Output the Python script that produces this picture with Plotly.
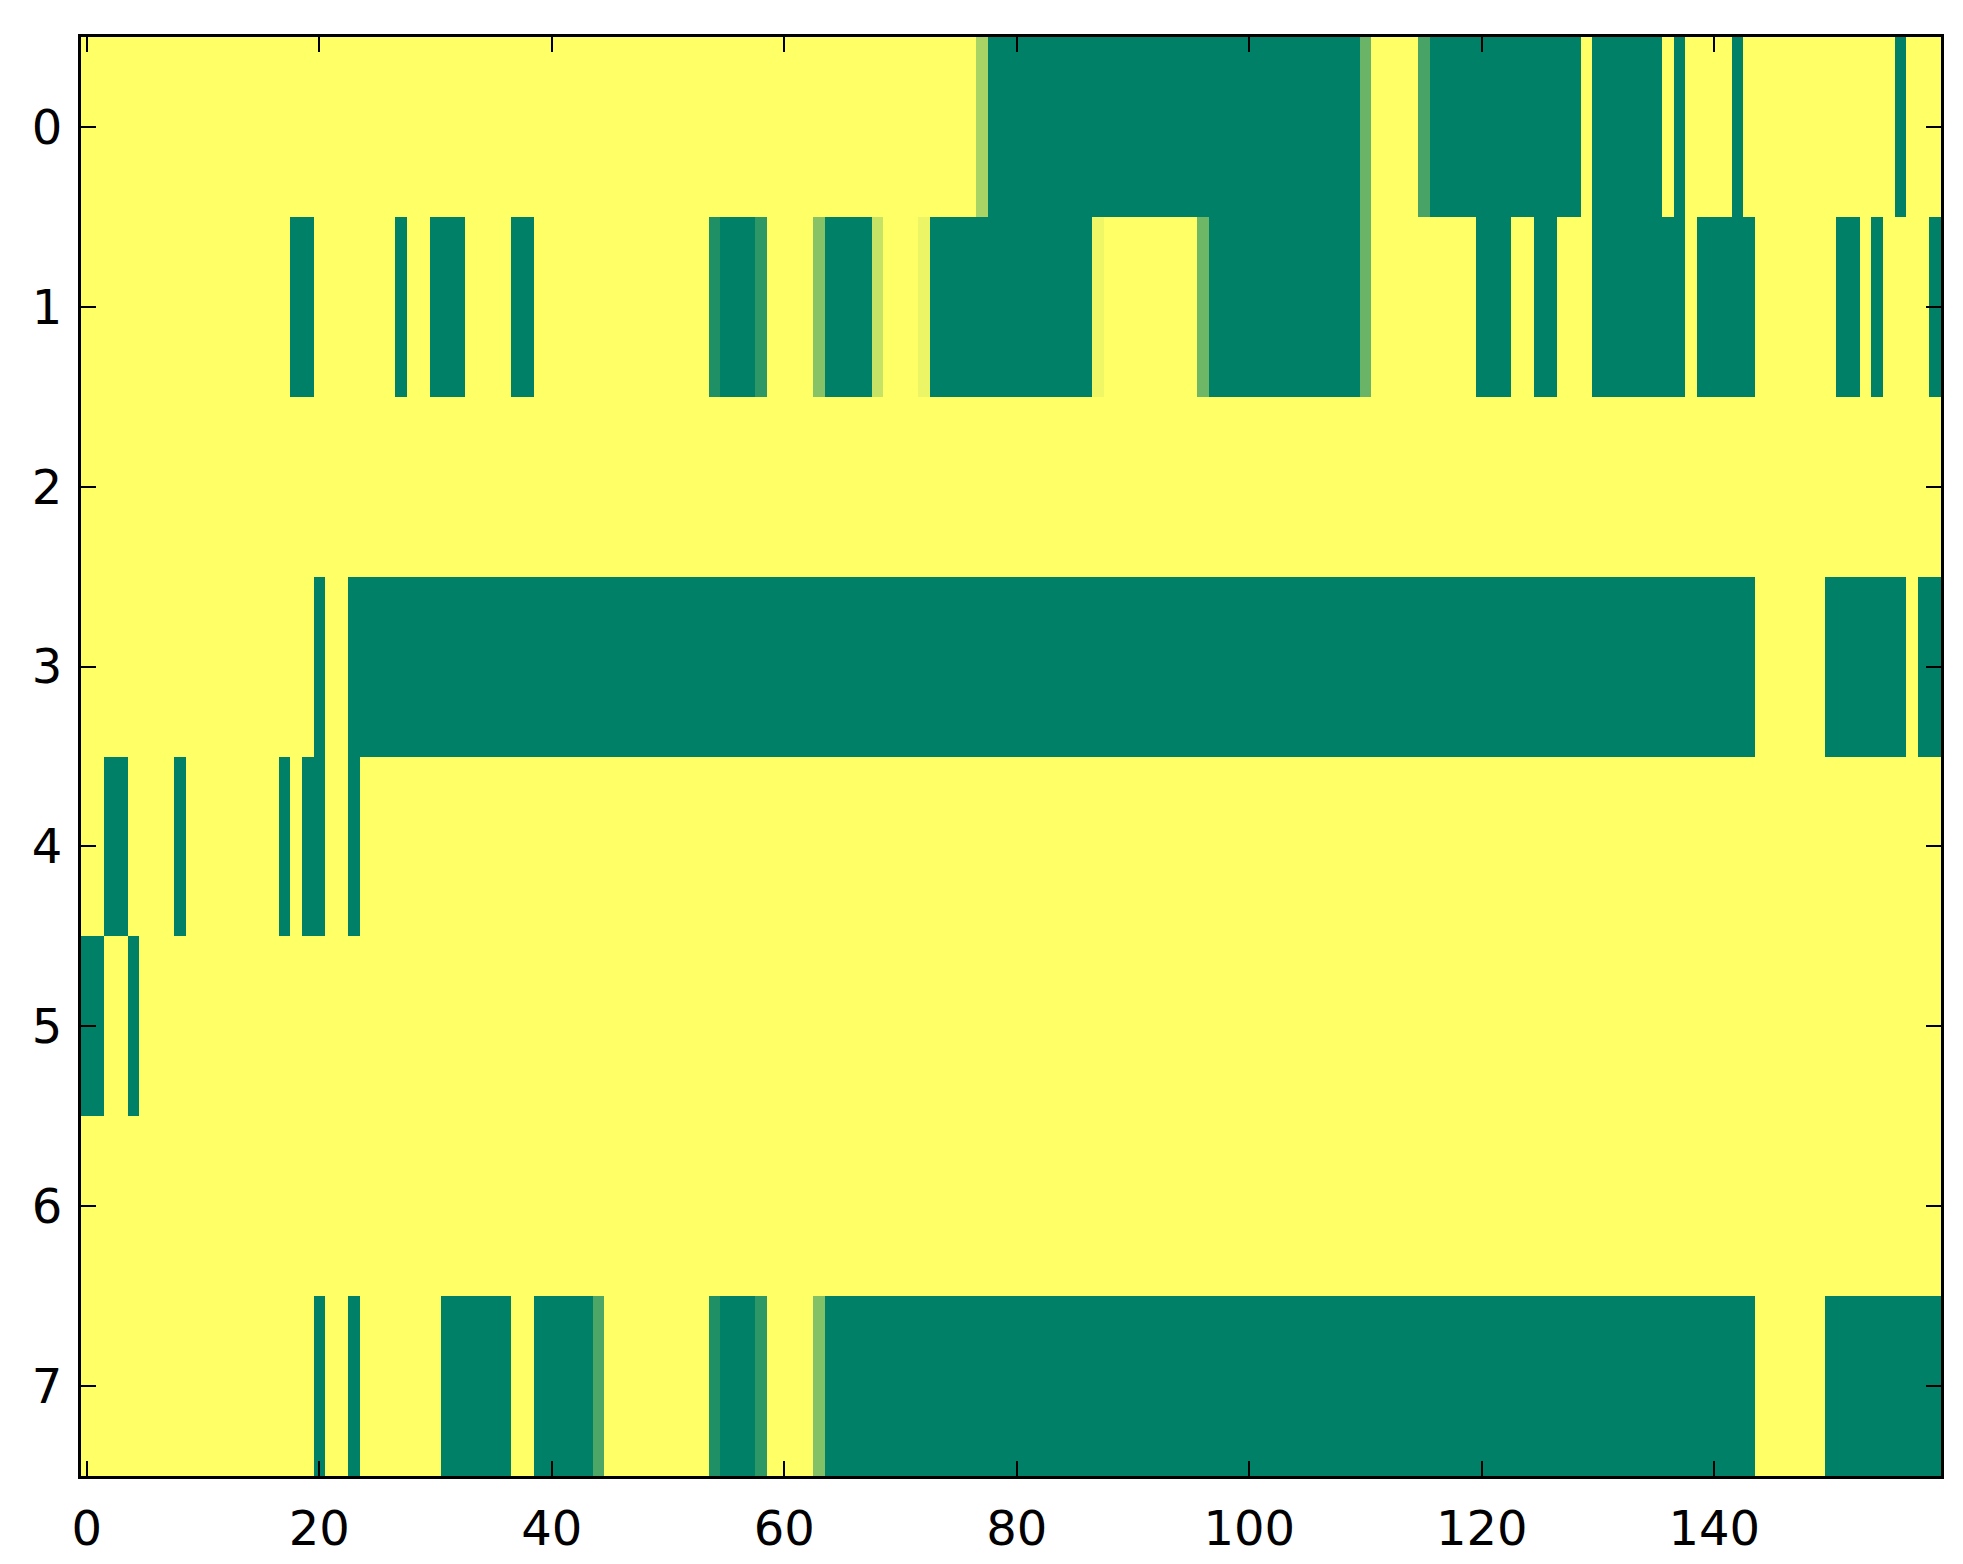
import plotly.graph_objects as go

# ---------------------------------------------------------------------------
# Data: 8 rows x 160 columns, values in [0, 1] ('summer' colour map).
# Background cells are 1.0 (yellow); listed runs are (first_col, last_col, value).
# ---------------------------------------------------------------------------

n_rows = 8
n_cols = 160
base_value = 1.0

row0_runs = [(77, 77, 0.66), (78, 109, 0.0), (110, 110, 0.41), (115, 115, 0.28),
             (116, 128, 0.0), (130, 135, 0.0), (137, 137, 0.0), (142, 142, 0.0),
             (156, 156, 0.0)]
row1_runs = [(18, 19, 0.0), (27, 27, 0.0), (30, 32, 0.0), (37, 38, 0.0),
             (54, 54, 0.12), (55, 57, 0.0), (58, 58, 0.18), (63, 63, 0.53),
             (64, 67, 0.0), (68, 68, 0.78), (72, 72, 0.92), (73, 86, 0.0),
             (87, 87, 0.94), (96, 96, 0.43), (97, 109, 0.0), (110, 110, 0.41),
             (120, 122, 0.0), (125, 126, 0.0), (130, 137, 0.0), (139, 143, 0.0),
             (151, 152, 0.0), (154, 154, 0.0), (159, 159, 0.0)]
row2_runs = []
row3_runs = [(20, 20, 0.0), (23, 143, 0.0), (150, 156, 0.0), (158, 159, 0.0)]
row4_runs = [(2, 3, 0.0), (8, 8, 0.0), (17, 17, 0.0), (19, 20, 0.0), (23, 23, 0.0)]
row5_runs = [(0, 1, 0.0), (4, 4, 0.0)]
row6_runs = []
row7_runs = [(20, 20, 0.0), (23, 23, 0.0), (31, 36, 0.0), (39, 43, 0.0),
             (44, 44, 0.30), (54, 54, 0.12), (55, 57, 0.0), (58, 58, 0.18),
             (63, 63, 0.51), (64, 143, 0.0), (150, 159, 0.0)]

all_runs = [row0_runs, row1_runs, row2_runs, row3_runs,
            row4_runs, row5_runs, row6_runs, row7_runs]

x_ticks = [0, 20, 40, 60, 80, 100, 120, 140]
y_ticks = [0, 1, 2, 3, 4, 5, 6, 7]

# build the grid from the runs
z = []
for runs in all_runs:
    row = [base_value] * n_cols
    for first, last, val in runs:
        for c in range(first, last + 1):
            row[c] = val
    z.append(row)

# matplotlib 'summer': r = v, g = 0.5 + 0.5 v, b = 0.4
summer = [[0.0, 'rgb(0,128,102)'], [1.0, 'rgb(255,255,102)']]

fig = go.Figure(go.Heatmap(
    z=z,
    x=list(range(n_cols)),
    y=list(range(n_rows)),
    colorscale=summer,
    zmin=0, zmax=1,
    showscale=False,
    hoverinfo='skip',
))

axis_common = dict(
    showline=True, linecolor='black', linewidth=3, mirror='allticks',
    ticks='inside', ticklen=15, tickwidth=2, tickcolor='black',
    showgrid=False, zeroline=False,
    tickfont=dict(family='DejaVu Sans', size=48, color='black'),
)

fig.update_xaxes(range=[-0.5, n_cols - 0.5], tickvals=x_ticks,
                 ticklabelstandoff=8, **axis_common)
fig.update_yaxes(range=[n_rows - 0.5, -0.5], tickvals=y_ticks,
                 ticklabelstandoff=6, **axis_common)

fig.update_layout(
    width=1963, height=1564,
    margin=dict(l=73, r=30, t=29, b=96),
    paper_bgcolor='white',
    plot_bgcolor='white',
    showlegend=False,
)

fig.write_html("out.html")
